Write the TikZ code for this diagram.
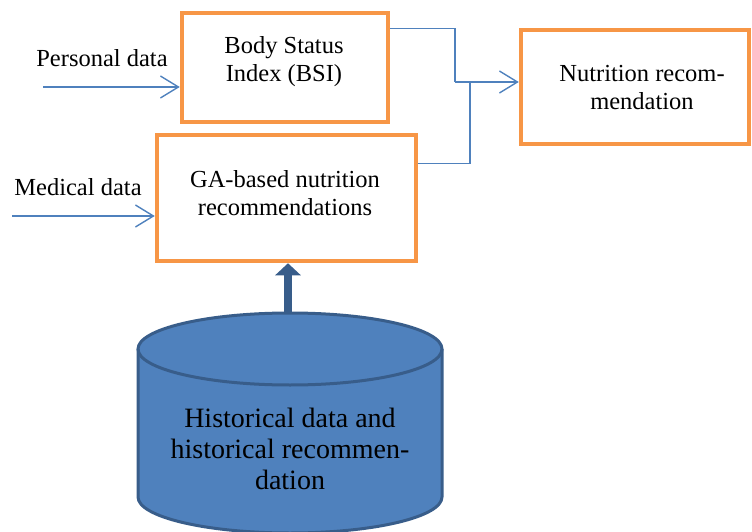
\documentclass[tikz,border=0pt]{standalone}
\usepackage{fontspec}
\setmainfont{Liberation Serif}
\newfontfamily\diagfont{Liberation Serif}
\usetikzlibrary{arrows.meta,calc}
\definecolor{boxorange}{HTML}{F79646}
\definecolor{lineblue}{HTML}{4F81BD}
\definecolor{darkblue}{HTML}{385D8A}
\tikzset{
  procbox/.style={draw=boxorange, line width=4.5pt, fill=white, inner sep=0pt},
  inlabel/.style={font=\diagfont\fontsize{24.5}{28}\selectfont, inner sep=0pt},
  flow/.style={draw=lineblue, line width=1.4pt, -{Straight Barb[length=18pt,width=22pt]}},
  joinline/.style={draw=lineblue, line width=1.4pt},
  thickarrow/.style={draw=darkblue, line width=8pt, -{Triangle[length=12pt,width=25pt]}},
}
\begin{document}
\begin{tikzpicture}[x=1pt,y=1pt]
\useasboundingbox (0,0) rectangle (752,531);
% boxes
\node[procbox, minimum width=206pt, minimum height=109pt] (bsi) at (285,463.5) {};
\node[inlabel, align=center] (bsit) at (284,469) {Body Status\\Index (BSI)};
\node[procbox, minimum width=259pt, minimum height=126pt] (ga) at (286.5,333) {};
\node[inlabel, align=center] (gat) at (285,337.5) {GA-based nutrition\\recommendations};
\node[procbox, minimum width=228pt, minimum height=114pt] (nut) at (635,444) {};
\node[inlabel, align=center] (nutt) at (642,443.5) {Nutrition recom-\\mendation};
% input labels
\node[inlabel] (pd) at (102,473) {Personal data};
\node[inlabel] (md) at (78,344) {Medical data};
\coordinate (pa) at (43,444);
\coordinate (ma) at (12,315);
\draw[flow] (pa) -- (pa -| bsi.west);
\draw[flow] (ma) -- (ma -| ga.west);
% join lines
\coordinate (s1) at ($(bsi.north east)+(0,-18)$);
\coordinate (s2) at ($(ga.north east)+(0,-31)$);
\coordinate (j1) at (455,449);
\coordinate (j2) at (470,449);
\draw[joinline] (s1) -| (j1);
\draw[joinline] (s2) -| (j2);
\draw[flow] (j1) -- (j1 -| nut.west);
% cylinder
\fill[lineblue] (138,182) -- (138,34) arc[start angle=180,end angle=360,x radius=152,y radius=36] -- (442,182) arc[start angle=0,end angle=180,x radius=152,y radius=36] -- cycle;
\draw[darkblue, line width=3pt] (138,182) -- (138,34) arc[start angle=180,end angle=360,x radius=152,y radius=36] -- (442,182);
\draw[darkblue, line width=3pt] (290,182) ellipse[x radius=152,y radius=36];
\coordinate (dbtop) at (288,218);
\node[font=\diagfont\fontsize{28}{31}\selectfont, align=center, inner sep=0pt] (dbt) at (290,82) {Historical data and\\historical recommen-\\dation};
\draw[thickarrow] (dbtop) -- (dbtop |- ga.south);
\end{tikzpicture}
\end{document}
